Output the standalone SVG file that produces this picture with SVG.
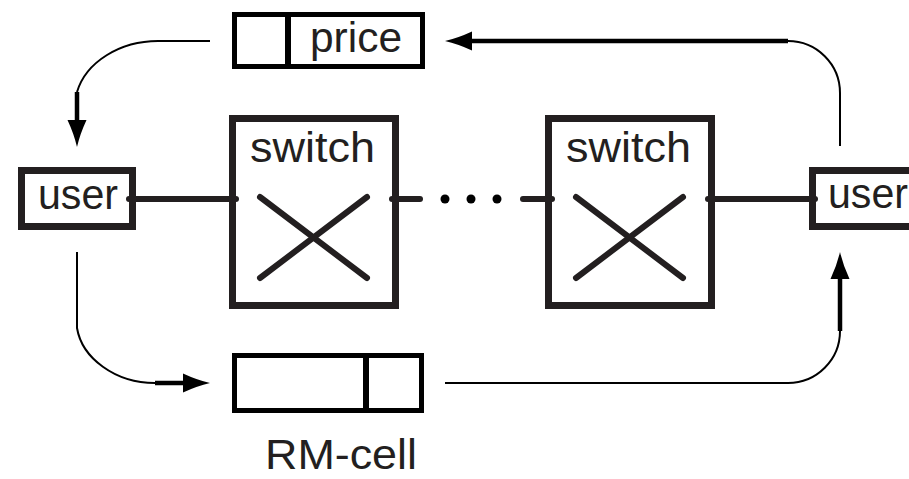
<svg xmlns="http://www.w3.org/2000/svg" width="909" height="479" viewBox="0 0 909 479">
<style>
.lbl{font-family:"Liberation Sans",Arial,sans-serif;font-size:42px;fill:#231f20}
.box{fill:none;stroke:#231f20;stroke-width:7}
.cell{fill:none;stroke:#000;stroke-width:5}
.div{stroke:#000;stroke-width:6}
.link{stroke:#231f20;stroke-width:6;stroke-linecap:round;fill:none}
.thin{fill:none;stroke:#000;stroke-width:2}
.thick{fill:none;stroke:#000;stroke-width:4.5}
.dot{fill:#000}
</style>
<defs>
<marker id="ah" viewBox="-28 -10 29 20" refX="-22" refY="0" markerWidth="29" markerHeight="20" markerUnits="userSpaceOnUse" orient="auto">
<path d="M0,0 Q-13,-3 -27,-9.5 L-27,9.5 Q-13,3 0,0 Z" fill="#000"/>
</marker>
</defs>
<g id="connectors">
<line class="link" x1="129" y1="199" x2="236" y2="199"/>
<line class="link" x1="392" y1="199" x2="420" y2="199"/>
<circle class="dot" cx="445" cy="199" r="4.5"/>
<circle class="dot" cx="471" cy="199" r="4.5"/>
<circle class="dot" cx="497" cy="199" r="4.5"/>
<line class="link" x1="523" y1="199" x2="552" y2="199"/>
<line class="link" x1="708" y1="199" x2="815" y2="199"/>
<path class="thin" d="M840,146 L840,93 A52,52 0 0 0 788,41"/>
<path class="thick" d="M788,41 L467,41" marker-end="url(#ah)"/>
<path class="thin" d="M210,41 L158,41 C120,41 86,62 77,92"/>
<path class="thick" d="M77,92 L77,125" marker-end="url(#ah)"/>
<path class="thin" d="M77,252 L77,328 C82,358 115,383 155,383"/>
<path class="thick" d="M155,383 L188,383" marker-end="url(#ah)"/>
<path class="thin" d="M445,383 L788,383 A52,52 0 0 0 840,331"/>
<path class="thick" d="M840,331 L840,274" marker-end="url(#ah)"/>
</g>
<g id="price">
<rect class="cell" x="234.5" y="14.5" width="188" height="52"/>
<line class="div" x1="288" y1="14.5" x2="288" y2="66.5"/>
<text class="lbl" x="310" y="52" textLength="92" lengthAdjust="spacingAndGlyphs">price</text>
</g>
<g id="rmcell">
<rect class="cell" x="234.5" y="355.5" width="187" height="55"/>
<line class="div" x1="366" y1="355.5" x2="366" y2="410.5"/>
<text class="lbl" x="265" y="469" textLength="152" lengthAdjust="spacingAndGlyphs">RM-cell</text>
</g>
<g id="user-left">
<rect class="box" x="21.5" y="170.5" width="111" height="56"/>
<text class="lbl" x="38" y="209" textLength="80" lengthAdjust="spacingAndGlyphs">user</text>
</g>
<g id="user-right">
<rect class="box" x="812.5" y="170.5" width="130" height="56"/>
<text class="lbl" x="828" y="208" textLength="80" lengthAdjust="spacingAndGlyphs">user</text>
</g>
<g id="switch1">
<rect class="box" x="232.5" y="118.5" width="163" height="187"/>
<text class="lbl" x="250" y="162" textLength="125" lengthAdjust="spacingAndGlyphs">switch</text>
<line class="link" x1="260" y1="197" x2="367" y2="278"/>
<line class="link" x1="367" y1="197" x2="260" y2="278"/>
</g>
<g id="switch2">
<rect class="box" x="548.5" y="118.5" width="163" height="187"/>
<text class="lbl" x="566" y="162" textLength="125" lengthAdjust="spacingAndGlyphs">switch</text>
<line class="link" x1="576" y1="197" x2="683" y2="278"/>
<line class="link" x1="683" y1="197" x2="576" y2="278"/>
</g>
</svg>
